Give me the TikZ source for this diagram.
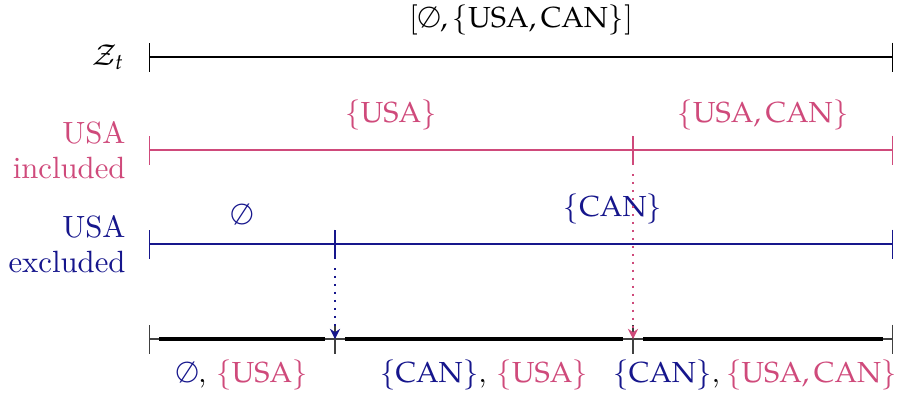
\documentclass[tikz,border=0pt]{standalone}
\usepackage{mathpazo}
\usetikzlibrary{arrows.meta}
\definecolor{incl}{RGB}{207,74,123}
\definecolor{excl}{RGB}{22,22,140}
\tikzset{
  seg/.style={line width=0.9pt, {Bar[width=10pt,line width=0.45pt]}-{Bar[width=10pt,line width=0.45pt]}},
  thinseg/.style={line width=0.45pt, draw=black!75, {Bar[width=10pt,line width=0.45pt]}-{Bar[width=10pt,line width=0.45pt]}},
  thickseg/.style={line width=1.1pt, draw=black, shorten <=3.5pt, shorten >=3.5pt},
  jump/.style={dotted, line width=0.75pt, -{Stealth[length=3.5pt,width=3.5pt]}},
  lbl/.style={inner sep=1pt},
  rowlbl/.style={align=right, anchor=east, inner sep=1pt, font=\fontsize{10.6pt}{12.2pt}\selectfont},
}
\begin{document}
\begin{tikzpicture}[x=0.3448pt,y=-0.3448pt]
\useasboundingbox (0,0) rectangle (903,398);

% breakpoints along each row
\coordinate (zL) at (149,57);  \coordinate (zR) at (893,57);
\coordinate (iL) at (149,150); \coordinate (iM) at (633,150); \coordinate (iR) at (893,150);
\coordinate (eL) at (149,244); \coordinate (eM) at (335,244); \coordinate (eR) at (893,244);
\coordinate (bL) at (149,339); \coordinate (b1) at (335,339); \coordinate (b2) at (633,339); \coordinate (bR) at (893,339);
\coordinate (eDrop) at (335,268);
\coordinate (iDrop) at (633,174);

% full range
\draw[seg] (zL) -- (zR);
\node[lbl] (zlab) at (521,20) {$[\emptyset,\{\mathrm{USA},\mathrm{CAN}\}]$};
\node[lbl, anchor=east] (zname) at (128,57) {$\mathcal{Z}_t$};

% USA included
\draw[seg, incl] (iL) -- (iM);
\draw[seg, incl] (iM) -- (iR);
\node[lbl, text=incl] (ia) at (391,115) {$\{\mathrm{USA}\}$};
\node[lbl, text=incl] (ib) at (763,115) {$\{\mathrm{USA},\mathrm{CAN}\}$};
\node[rowlbl, text=incl] (iname) at (129,150) {USA\\included};

% USA excluded
\draw[seg, excl] (eL) -- (eM);
\draw[seg, excl] (eM) -- (eR);
\node[lbl, text=excl] (ea) at (242,214) {$\emptyset$};
\node[lbl, text=excl] (eb) at (613,209) {$\{\mathrm{CAN}\}$};
\node[rowlbl, text=excl] (ename) at (129,244) {USA\\excluded};

% combined partition
\draw[thinseg] (bL) -- (b1);
\draw[thinseg] (b1) -- (b2);
\draw[thinseg] (b2) -- (bR);
\draw[thickseg] (bL) -- (b1);
\draw[thickseg] (b1) -- (b2);
\draw[thickseg] (b2) -- (bR);

\draw[jump, excl] (eDrop) -- (b1);
\draw[jump, incl] (iDrop) -- (b2);

\node[lbl] (ba) at (242,375) {\textcolor{excl}{$\emptyset$}, \textcolor{incl}{$\{\mathrm{USA}\}$}};
\node[lbl] (bb) at (484,375) {\textcolor{excl}{$\{\mathrm{CAN}\}$}, \textcolor{incl}{$\{\mathrm{USA}\}$}};
\node[lbl] (bc) at (755,375) {\textcolor{excl}{$\{\mathrm{CAN}\}$},\hspace{2pt}\textcolor{incl}{$\{\mathrm{USA},\mathrm{CAN}\}$}};
\end{tikzpicture}
\end{document}
